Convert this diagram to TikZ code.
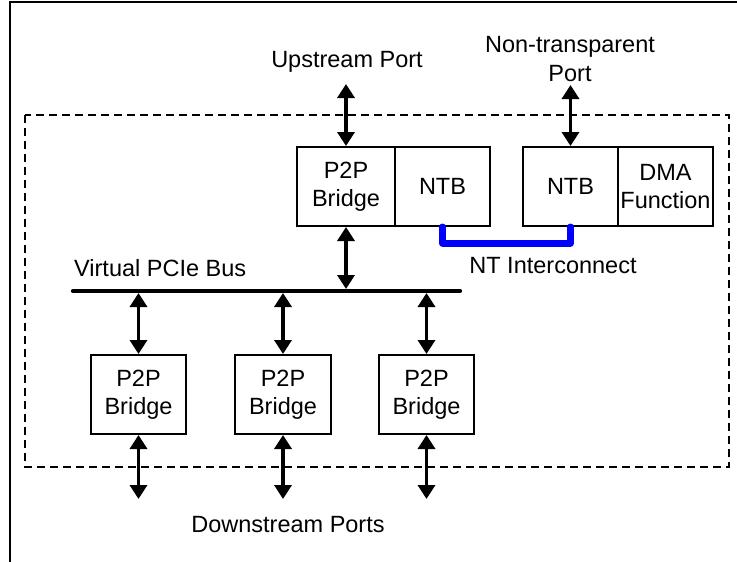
\documentclass[tikz,border=0pt]{standalone}
\usepackage{fontspec}
\setmainfont{Liberation Sans}
\usetikzlibrary{arrows.meta,calc}
\begin{document}
\begin{tikzpicture}[x=1pt,y=-1pt,
  every node/.style={font=\fontsize{23.5}{28.5}\selectfont},
  blk/.style={draw,line width=2pt,minimum height=79pt,inner sep=0pt,align=center},
  biarrow/.style={line width=3.4pt,{Triangle[width=17pt,length=14pt]}-{Triangle[width=17pt,length=14pt]}},
  lbl/.style={inner sep=0pt,anchor=base,align=center},
  ntlink/.style={draw=blue,line width=7pt,line cap=round,line join=round},
  bus/.style={line width=4.2pt,line cap=round},
  frame/.style={line width=2.8pt},
  dashbox/.style={line width=2.8pt,dash pattern=on 8pt off 5pt}]
\useasboundingbox (0,0) rectangle (737,562);
% outer frame (partially visible)
\draw[frame] (10,562) -- (10,2) -- (737,2);
% dashed switch boundary
\draw[dashbox] (25,115) rectangle (729,467);
% top blocks
\node[blk,minimum width=98pt] (p2pT) at (346,186.5) {P2P\\Bridge};
\node[blk,minimum width=95pt] (ntbA) at (442.5,186.5) {NTB};
\node[blk,minimum width=95pt] (ntbB) at (570.5,186.5) {NTB};
\node[blk,minimum width=95pt] (dma) at (665.5,186.5) {DMA\\Function};
% bottom blocks
\node[blk,minimum width=95pt] (p2pA) at (138.5,394.5) {P2P\\Bridge};
\node[blk,minimum width=96pt] (p2pB) at (283,394.5) {P2P\\Bridge};
\node[blk,minimum width=95pt] (p2pC) at (426.5,394.5) {P2P\\Bridge};
% bus
\coordinate (busL) at (73,291);
\coordinate (busR) at (460,291);
\draw[bus] (busL) -- (busR);
% labels
\node[lbl] (lup) at (347,67) {Upstream Port};
\node[lbl] (lnt) at (570,81) {Non-transparent\\Port};
\node[lbl,anchor=base west] (lbus) at (74,276) {Virtual PCIe Bus};
\node[lbl] (lnti) at (553,273) {NT Interconnect};
\node[lbl] (ldown) at (288,532) {Downstream Ports};
% port end points
\coordinate (upP) at (346,84);
\coordinate (ntP) at (570.5,85);
\coordinate (dA) at (138.5,499);
\coordinate (dB) at (283,499);
\coordinate (dC) at (426.5,499);
% arrows
\draw[biarrow] (upP) -- (p2pT.north);
\draw[biarrow] (ntP) -- (ntbB.north);
\draw[biarrow] (p2pT.south) -- ($(p2pT.south |- busL)+(0,-2)$);
\draw[biarrow] ($(p2pA.north |- busL)+(0,2)$) -- (p2pA.north);
\draw[biarrow] ($(p2pB.north |- busL)+(0,2)$) -- (p2pB.north);
\draw[biarrow] ($(p2pC.north |- busL)+(0,2)$) -- (p2pC.north);
\draw[biarrow] (p2pA.south) -- (dA);
\draw[biarrow] (p2pB.south) -- (dB);
\draw[biarrow] (p2pC.south) -- (dC);
% NT interconnect
\draw[ntlink] (ntbA.south) -- ++(0,16) -| (ntbB.south);
\end{tikzpicture}
\end{document}
